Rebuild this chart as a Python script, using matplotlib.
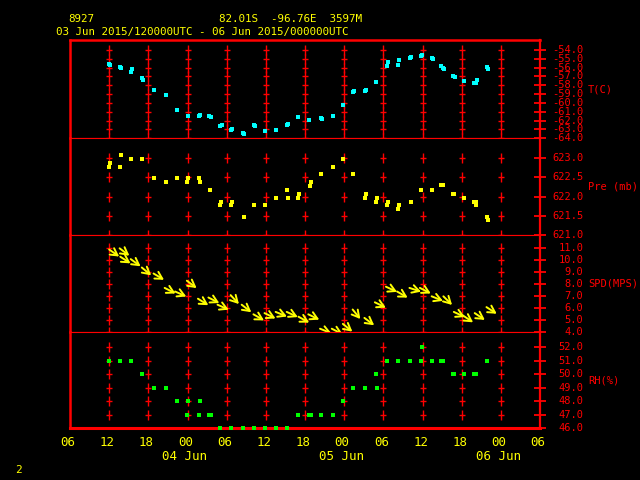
import matplotlib
matplotlib.use('Agg')
import matplotlib.pyplot as plt
import matplotlib.transforms as mtransforms
import numpy as np

plt.rcParams['font.family'] = ['DejaVu Sans Mono']

# hours since 03 Jun 2015 12Z
t_temp = [0.0, 0.1, 1.7, 1.8, 3.3, 3.5, 5.0, 5.2, 6.9, 8.7, 10.4, 12.0, 13.8, 13.9, 15.3, 15.6,
          17.0, 17.3, 18.7, 18.8, 20.5, 20.6, 22.2, 22.3, 23.9, 25.6, 27.2, 27.4, 29.0, 30.6,
          32.4, 32.6, 34.3, 35.8, 37.3, 37.5, 39.2, 39.3, 40.9, 42.6, 42.7, 44.2, 44.4, 46.1,
          46.2, 47.8, 47.9, 49.4, 49.6, 50.8, 51.1, 51.3, 52.7, 53.0, 54.4, 55.9, 56.2, 56.3,
          57.9, 58.0]
temp = [-55.6, -55.7, -55.9, -56.0, -56.5, -56.2, -57.2, -57.4, -58.5, -59.1, -60.8, -61.5,
        -61.5, -61.4, -61.5, -61.6, -62.6, -62.5, -63.1, -63.0, -63.4, -63.5, -62.5, -62.6,
        -63.2, -63.1, -62.5, -62.4, -61.6, -61.9, -61.7, -61.8, -61.5, -60.2, -58.8, -58.6,
        -58.6, -58.5, -57.6, -55.8, -55.4, -55.7, -55.1, -54.9, -54.8, -54.7, -54.6, -54.9,
        -55.0, -55.8, -56.0, -56.2, -56.9, -57.1, -57.5, -57.7, -57.7, -57.4, -55.9, -56.2]

t_pres = [0.0, 0.1, 1.7, 1.8, 3.4, 5.1, 6.9, 8.7, 10.4, 11.9, 12.1, 13.8, 13.9, 15.4, 17.0,
          17.2, 18.7, 18.8, 20.6, 22.2, 23.9, 25.6, 27.2, 27.4, 28.9, 29.1, 30.7, 30.9, 32.5,
          34.3, 35.8, 37.4, 39.2, 39.3, 40.9, 41.0, 42.6, 42.7, 44.2, 44.4, 46.2, 47.8, 49.5,
          50.9, 51.2, 52.7, 52.9, 54.4, 55.9, 56.2, 56.2, 57.9, 58.0]
pres = [622.78, 622.88, 622.78, 623.09, 622.98, 622.98, 622.49, 622.39, 622.49, 622.39,
        622.49, 622.49, 622.39, 622.18, 621.79, 621.87, 621.79, 621.87, 621.48, 621.79,
        621.79, 621.97, 622.18, 621.97, 621.97, 622.08, 622.28, 622.39, 622.59, 622.78,
        622.98, 622.59, 621.97, 622.08, 621.87, 621.97, 621.79, 621.87, 621.69, 621.79,
        621.87, 622.18, 622.18, 622.29, 622.29, 622.08, 622.08, 621.97, 621.87, 621.87,
        621.79, 621.48, 621.38]

t_wind = [0.0, 1.6, 1.7, 3.3, 5.0, 6.8, 8.5, 10.1, 11.9, 13.6, 15.2, 16.6, 18.6, 20.3, 22.1,
          23.8, 25.5, 27.2, 29.0, 30.5, 32.3, 34.1, 35.8, 37.3, 39.1, 40.7, 42.4, 44.1, 46.0,
          47.6, 49.4, 51.2, 52.8, 54.2, 56.0, 57.8]
spd = [10.9, 11.0, 10.3, 10.1, 9.4, 8.9, 7.7, 7.4, 8.3, 6.8, 6.9, 6.3, 7.1, 6.3, 5.5, 5.6,
       5.7, 5.7, 5.3, 5.5, 4.3, 4.3, 4.7, 5.9, 5.2, 6.5, 7.8, 7.4, 7.7, 7.7, 7.0, 7.0, 5.7,
       5.4, 5.6, 6.1]
drct = [305, 307, 303, 306, 310, 301, 297, 294, 307, 302, 297, 294, 317, 308, 300, 296,
        292, 295, 299, 296, 292, 297, 309, 321, 307, 296, 295, 300, 288, 297, 292, 315, 295,
        304, 304, 303]

t_rh = [0.0, 1.7, 3.4, 5.1, 6.9, 8.7, 10.4, 11.9, 12.1, 13.8, 13.9, 15.3, 15.6, 17.0, 18.7,
        20.5, 22.2, 23.9, 25.6, 27.3, 29.0, 30.6, 30.9, 32.5, 34.3, 35.8, 37.4, 39.2, 40.9,
        41.0, 42.6, 44.3, 46.1, 47.8, 47.9, 49.5, 50.9, 51.2, 52.7, 52.9, 54.4, 55.9, 56.2,
        57.9]
rh = [51, 51, 51, 50, 49, 49, 48, 47, 48, 47, 48, 47, 47, 46, 46, 46, 46, 46, 46, 46, 47, 47,
      47, 47, 47, 48, 49, 49, 50, 49, 51, 51, 51, 51, 52, 51, 51, 51, 50, 50, 50, 50, 50, 51]

hour_ticks = [-6, 0, 6, 12, 18, 24, 30, 36, 42, 48, 54, 60, 66]
hour_labels = ['06', '12', '18', '00', '06', '12', '18', '00', '06', '12', '18', '00', '06']
day_ticks = [12, 36, 60]
day_labels = ['04 Jun', '05 Jun', '06 Jun']
grid_hours = [0, 6, 12, 18, 24, 30, 36, 42, 48, 54, 60]

RED = '#ff0000'
YEL = '#ffff00'

fig = plt.figure(figsize=(6.4, 4.8), dpi=100)
fig.patch.set_facecolor('black')


def panel(top, bottom):
    ax = fig.add_axes([70 / 640, 1 - bottom / 480, 470 / 640, (bottom - top) / 480])
    ax.set_facecolor('black')
    ax.set_xlim(-6, 66)
    ax.tick_params(axis='x', bottom=False, labelbottom=False)
    ax.tick_params(axis='y', left=False, labelleft=False, right=True, labelright=False,
                   direction='inout', length=8.5, width=1.3, color=RED)
    for s in ax.spines.values():
        s.set_color(RED)
        s.set_linewidth(0.8)
    ax.spines['left'].set_linewidth(1.8)
    ax.spines['right'].set_linewidth(1.6)
    return ax


ax_t = panel(40, 138.3)
ax_p = panel(138.3, 235)
ax_s = panel(235, 332.3)
ax_r = panel(332.3, 428)

ax_t.set_ylim(-64, -52.87)
ax_p.set_ylim(621.0, 623.52)
ax_s.set_ylim(4.0, 12.11)
ax_r.set_ylim(46.145, 53.09)
ax_t.spines['top'].set_linewidth(1.8)
ax_r.spines['bottom'].set_linewidth(2.2)

panels = [
    (ax_t, np.arange(-64, -53.5, 1.0), 'T(C)'),
    (ax_p, np.arange(621.0, 623.1, 0.5), 'Pre (mb)'),
    (ax_s, np.arange(4.0, 11.5, 1.0), 'SPD(MPS)'),
    (ax_r, np.arange(46.0, 52.5, 1.0), 'RH(%)'),
]

for ax, ticks, unit in panels:
    ax.set_yticks(ticks)
    tr = ax.get_yaxis_transform()
    for v in ticks:
        ax.text(1.092, v, '%.1f' % v, transform=tr, color=RED, fontsize=7.5,
                ha='right', va='center', clip_on=False)
    ax.text(1.102, 0.5, unit, transform=ax.transAxes, color=RED, fontsize=7.5,
            ha='left', va='center')
    # dashed grid made of crosses
    lv = [v for v in ticks if not (ax is ax_r and v == 46.0)]
    for h in grid_hours:
        ax.plot([h] * len(lv), lv, ls='none', marker='|', ms=7.2, mew=1.0, color=RED,
                clip_on=False, zorder=1)
        ax.plot([h] * len(lv), lv, ls='none', marker='_', ms=5.0, mew=1.0, color=RED,
                clip_on=False, zorder=1)

ax_t.plot(t_temp, temp, ls='none', marker='s', ms=3.3, mew=0, color='#00ffff', zorder=3)
ax_p.plot(t_pres, pres, ls='none', marker='s', ms=3.4, mew=0, color=YEL, zorder=3)
ax_r.plot(t_rh, rh, ls='none', marker='s', ms=3.4, mew=0, color='#00ff00', zorder=3,
          clip_on=False)

# wind arrows: tail on the speed value, pointing where the wind blows to
L = 8.8
for h, s, d in zip(t_wind, spd, drct):
    r = np.deg2rad(d)
    ux, uy = -np.sin(r), -np.cos(r)
    ax_s.annotate('', xy=(h, s), xytext=(L * ux, L * uy), textcoords='offset points',
                  arrowprops=dict(arrowstyle='<-, head_length=0.5, head_width=0.28',
                                  color=YEL, lw=1.4, shrinkA=0, shrinkB=0),
                  zorder=3)

# time axis labels
trx = mtransforms.blended_transform_factory(ax_r.transData, fig.transFigure)
for h, lab in zip(hour_ticks, hour_labels):
    fig.text(h - 0.3, 1 - 443 / 480, lab, transform=trx, color=YEL, fontsize=9,
             ha='center', va='center')
for h, lab in zip(day_ticks, day_labels):
    fig.text(h - 0.4, 1 - 457 / 480, lab, transform=trx, color=YEL, fontsize=9,
             ha='center', va='center')

fig.text(68 / 640, 1 - 18.7 / 480, '8927', color=YEL, fontsize=7.8, ha='left', va='center')
fig.text(219 / 640, 1 - 18.7 / 480, '82.01S  -96.76E  3597M', color=YEL, fontsize=7.8,
         ha='left', va='center')
fig.text(56 / 640, 1 - 31.7 / 480, '03 Jun 2015/120000UTC - 06 Jun 2015/000000UTC',
         color=YEL, fontsize=7.8, ha='left', va='center')
fig.text(15 / 640, 1 - 470 / 480, '2', color=YEL, fontsize=8, ha='left', va='center')

fig.savefig('out.png', dpi=100, facecolor='black')
